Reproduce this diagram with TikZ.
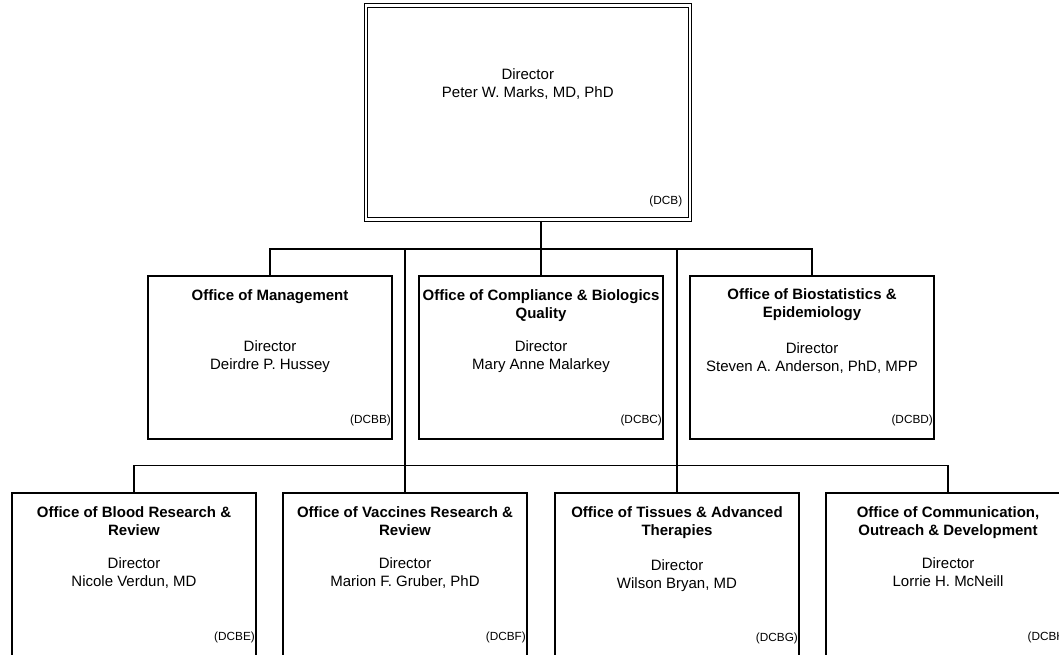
\documentclass[tikz,border=0pt]{standalone}
\usepackage{fontspec}
\setmainfont{Liberation Sans}
\usepackage{tikz}

\begin{document}
\begin{tikzpicture}[x=1pt, y=-1pt,
    every node/.style={font=\fontsize{15}{18}\selectfont, inner sep=0pt},
    office/.style={draw, line width=1.1pt, minimum width=244pt, minimum height=163pt},
    head/.style={font=\fontsize{15}{18}\selectfont\bfseries, align=center, anchor=north, yshift=-13.5pt},
    who/.style={align=center, anchor=north, yshift=-64.5pt},
    code/.style={font=\fontsize{11.8}{13}\selectfont, anchor=base east, xshift=-1.5pt, yshift=16pt},
    link/.style={line width=1.1pt}]
    \useasboundingbox (0,0) rectangle (1059,654);

    % director (double frame)
    \node (dcb) [draw, line width=0.9pt,
        minimum width=320.5pt, minimum height=210.5pt] at (527.75,112.25) {};
    \draw[line width=0.9pt] ([xshift=-3pt,yshift=3pt]dcb.north west)
        rectangle ([xshift=3pt,yshift=-3pt]dcb.south east);
    \node (dcbwho) [who, yshift=3pt] at (dcb.north) {Director\\Peter W. Marks, MD, PhD};
    \node (dcbcode) [code, xshift=-4.5pt, yshift=-2.5pt] at (dcb.south east) {(DCB)};

    % second row
    \node (mgt) [office] at (270,357.5) {};
    \node (mgthead) [head] at (mgt.north) {Office of Management};
    \node (mgtwho) [who] at (mgt.north) {Director\\Deirdre P. Hussey};
    \node (mgtcode) [code] at (mgt.south east) {(DCBB)};

    \node (comp) [office] at (541,357.5) {};
    \node (comphead) [head] at (comp.north) {Office of Compliance \& Biologics\\Quality};
    \node (compwho) [who] at (comp.north) {Director\\Mary Anne Malarkey};
    \node (compcode) [code] at (comp.south east) {(DCBC)};

    \node (bios) [office] at (812,357.5) {};
    \node (bioshead) [head, yshift=1pt] at (bios.north) {Office of Biostatistics \&\\Epidemiology};
    \node (bioswho) [who, yshift=-2pt] at (bios.north) {Director\\Steven A. Anderson, PhD, MPP};
    \node (bioscode) [code] at (bios.south east) {(DCBD)};

    % third row
    \node (blood) [office] at (134,574.5) {};
    \node (bloodhead) [head] at (blood.north) {Office of Blood Research \&\\Review};
    \node (bloodwho) [who] at (blood.north) {Director\\Nicole Verdun, MD};
    \node (bloodcode) [code] at (blood.south east) {(DCBE)};

    \node (vac) [office] at (405,574.5) {};
    \node (vachead) [head] at (vac.north) {Office of Vaccines Research \&\\Review};
    \node (vacwho) [who] at (vac.north) {Director\\Marion F. Gruber, PhD};
    \node (vaccode) [code] at (vac.south east) {(DCBF)};

    \node (tis) [office] at (677,574.5) {};
    \node (tishead) [head] at (tis.north) {Office of Tissues \& Advanced\\Therapies};
    \node (tiswho) [who, yshift=-2pt] at (tis.north) {Director\\Wilson Bryan, MD};
    \node (tiscode) [code, yshift=-1pt] at (tis.south east) {(DCBG)};

    \node (comm) [office] at (948,574.5) {};
    \node (commhead) [head] at (comm.north) {Office of Communication,\\Outreach \& Development};
    \node (commwho) [who] at (comm.north) {Director\\Lorrie H. McNeill};
    \node (commcode) [code] at (comm.south east) {(DCBH)};

    % connectors
    \coordinate (bus2) at (541,249);
    \coordinate (bus3) at (405,465.5);
    \draw[link] ([yshift=-3pt]dcb.south -| comp.north) -- (comp.north);
    \draw[link] (mgt.north) |- (bus2) -| (bios.north);
    \draw[link] (vac.north |- bus2) -- (vac.north);
    \draw[link] (tis.north |- bus2) -- (tis.north);
    \draw[link] (blood.north) |- (bus3) -| (comm.north);
\end{tikzpicture}
\end{document}
